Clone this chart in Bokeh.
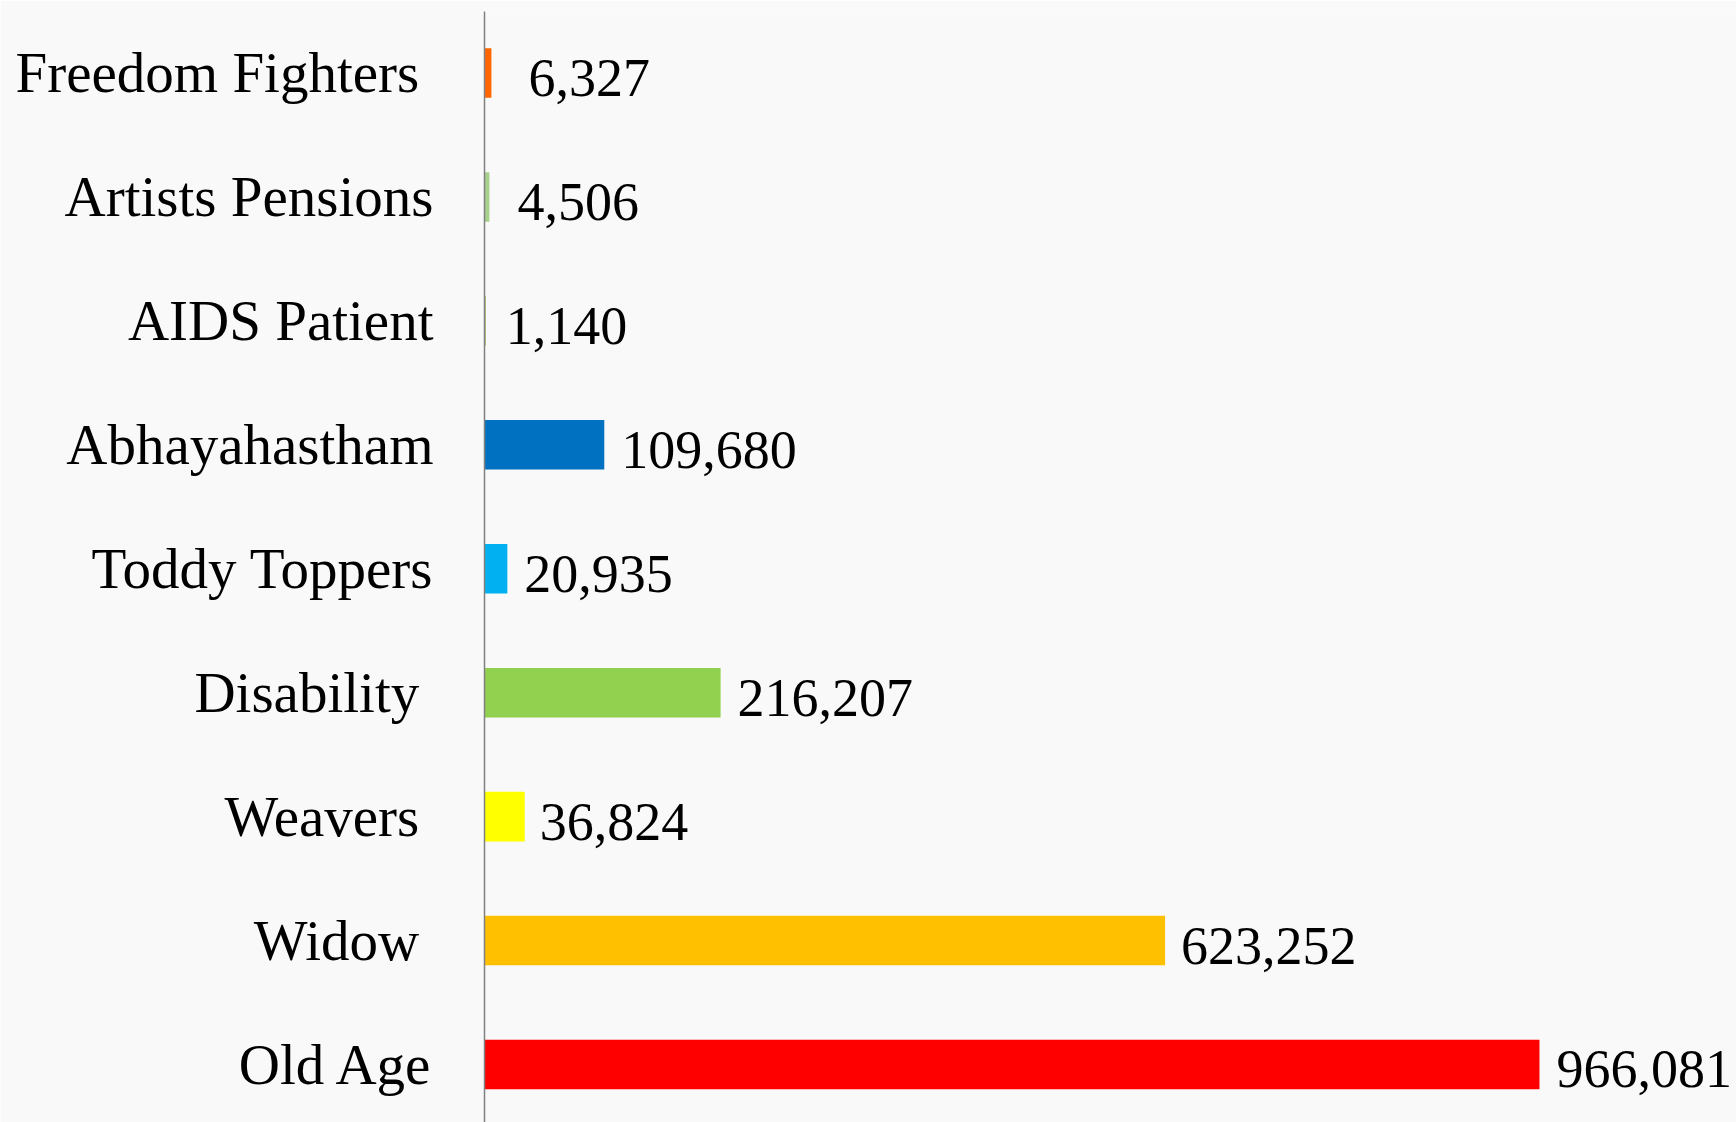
from bokeh.plotting import figure
from bokeh.models import ColumnDataSource, Range1d, FixedTicker
from bokeh.core.properties import value
from bokeh.embed import file_html
from bokeh.resources import INLINE

# ---- data (listed bottom to top) ----
categories = ["Old Age", "Widow", "Weavers", "Disability", "Toddy Toppers",
              "Abhayahastham", "AIDS Patient", "Artists Pensions", "Freedom Fighters"]
pensioners = [966081, 623252, 36824, 216207, 20935, 109680, 1140, 4506, 6327]

# ---- styles ----
bar_colors = ["#FF0000", "#FFC000", "#FFFF00", "#92D050", "#00B0F0",
              "#0070C0", "#9BBB59", "#A9D18E", "#FF6600"]
label_offsets = [17, 16, 15, 17, 17, 17, 20, 28, 37]
nbsp_labels = {"Freedom Fighters", "Disability", "Weavers", "Widow"}

FONT = "Liberation Serif"
BG = "#f9f9f9"

ypos = list(range(len(categories)))
src = ColumnDataSource(dict(
    y=ypos,
    v=pensioners,
    color=bar_colors,
    label=[f"{v:,}" for v in pensioners],
    xoff=label_offsets,
))

p = figure(width=1736, height=1122, output_backend="svg", toolbar_location=None,
           x_range=Range1d(0, 1146500), y_range=Range1d(-0.468, 8.496),
           min_border_left=484, min_border_right=0, min_border_top=11,
           min_border_bottom=0)

p.hbar(y="y", left=0, right="v", height=0.40, color="color", line_color=None, source=src)
p.text(x="v", y="y", text="label", source=src, x_offset="xoff", y_offset=5,
       text_font=value(FONT), text_font_size="54px", text_color="#000000",
       text_align="left", text_baseline="middle")

p.xaxis.visible = False
p.xgrid.visible = False
p.ygrid.visible = False
p.outline_line_color = None
p.background_fill_color = BG
p.border_fill_color = BG

ya = p.yaxis[0]
ya.ticker = FixedTicker(ticks=ypos)
ya.major_label_overrides = {i: (c + "\u00a0" if c in nbsp_labels else c)
                            for i, c in zip(ypos, categories)}
ya.major_tick_line_color = None
ya.minor_tick_line_color = None
ya.major_tick_out = 0
ya.major_tick_in = 0
ya.major_label_standoff = 51
ya.axis_line_color = "#808080"
ya.axis_line_width = 1.5
ya.major_label_text_font = FONT
ya.major_label_text_font_size = "57px"
ya.major_label_text_color = "#000000"

open("out.html", "w").write(file_html(p, INLINE))
